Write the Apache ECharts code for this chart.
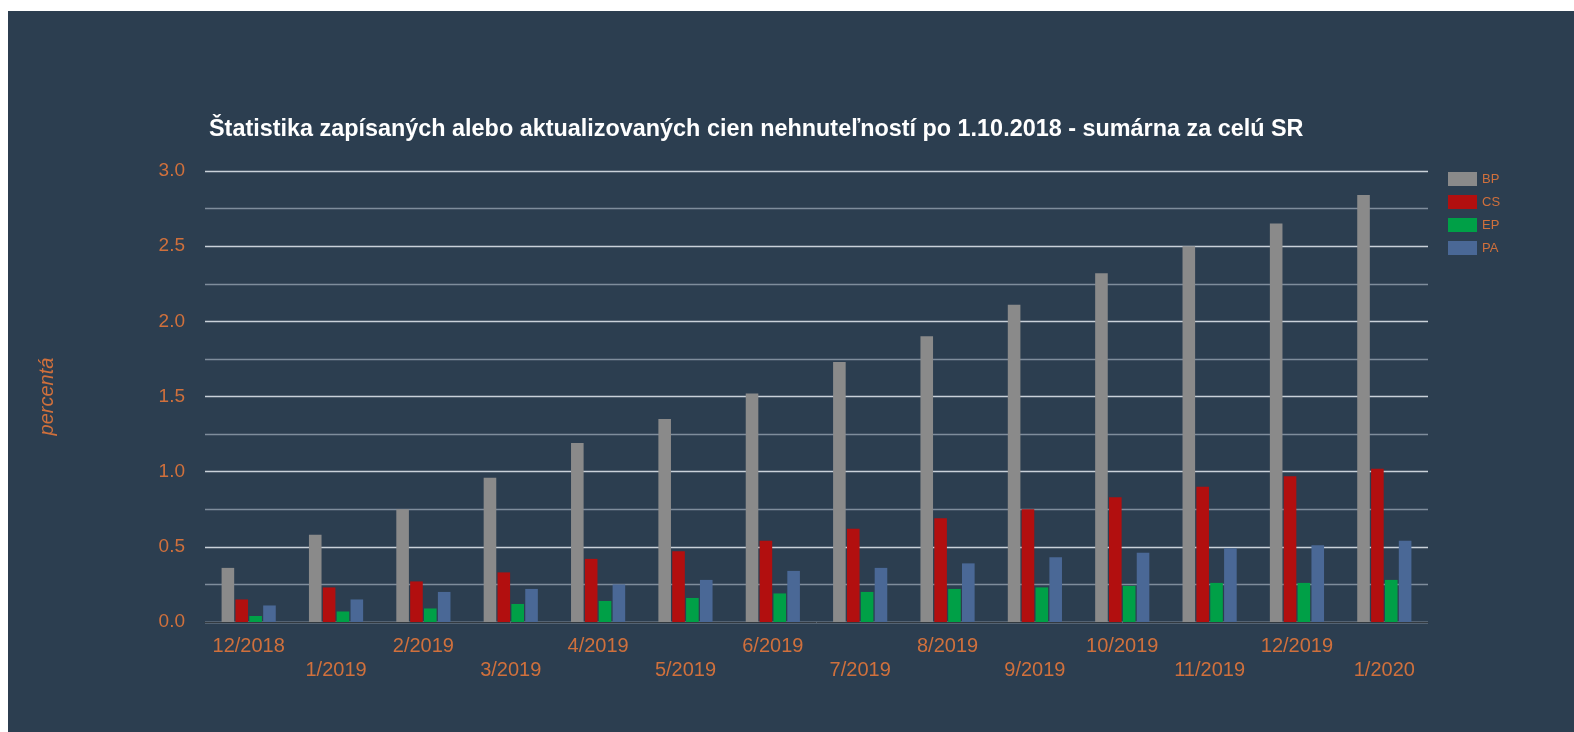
<!DOCTYPE html>
<html>
<head>
<meta charset="utf-8">
<script src="https://cdn.jsdelivr.net/npm/echarts@6/dist/echarts.min.js"></script>
<style>
  html, body { margin: 0; padding: 0; background: #ffffff; }
  #chart { position: absolute; left: 8px; top: 11px; width: 1566px; height: 721px; }
</style>
</head>
<body>
<div id="chart"></div>
<script>
var months = ['12/2018', '1/2019', '2/2019', '3/2019', '4/2019', '5/2019', '6/2019',
  '7/2019', '8/2019', '9/2019', '10/2019', '11/2019', '12/2019', '1/2020'];

var bp = [0.36, 0.58, 0.75, 0.96, 1.19, 1.35, 1.52, 1.73, 1.90, 2.11, 2.32, 2.50, 2.65, 2.84];
var cs = [0.15, 0.23, 0.27, 0.33, 0.42, 0.47, 0.54, 0.62, 0.69, 0.75, 0.83, 0.90, 0.97, 1.02];
var ep = [0.04, 0.07, 0.09, 0.12, 0.14, 0.16, 0.19, 0.20, 0.22, 0.23, 0.24, 0.26, 0.26, 0.28];
var pa = [0.11, 0.15, 0.20, 0.22, 0.25, 0.28, 0.34, 0.36, 0.39, 0.43, 0.46, 0.49, 0.51, 0.54];

var labelColor = '#d0703c';

var chart = echarts.init(document.getElementById('chart'));

// spolocne nastavenie pre stlpce
function bar(name, data, color) {
  return {
    name: name,
    type: 'bar',
    data: data,
    barWidth: 12.6,
    barGap: '10%',
    itemStyle: { color: color }
  };
}

chart.setOption({
  backgroundColor: '#2c3e50',
  animation: false,
  title: {
    text: 'Štatistika zapísaných alebo aktualizovaných cien nehnuteľností po 1.10.2018 - sumárna za celú SR',
    left: 196,
    top: 102,
    textStyle: { color: '#ffffff', fontFamily: 'Arial, Liberation Sans', fontSize: 23.4, fontWeight: 'bold' }
  },
  legend: {
    orient: 'vertical',
    left: 1435,
    top: 156,
    itemWidth: 29,
    itemHeight: 14,
    itemGap: 9,
    icon: 'rect',
    textStyle: { color: labelColor, fontFamily: 'Arial, Liberation Sans', fontSize: 13 }
  },
  grid: { left: 197, right: 146, top: 160, bottom: 110 },
  xAxis: {
    type: 'category',
    data: months,
    axisTick: { show: false },
    axisLine: { lineStyle: { color: '#333a40', width: 1 } },
    axisLabel: {
      interval: 0,
      color: labelColor,
      fontFamily: 'Arial, Liberation Sans',
      fontSize: 20,
      margin: 12,
      lineHeight: 24,
      formatter: function (v, i) { return i % 2 ? '\n' + v : v; }
    }
  },
  yAxis: {
    type: 'value',
    min: 0,
    max: 3,
    interval: 0.25,
    name: 'percentá',
    nameLocation: 'middle',
    nameGap: 148,
    nameTextStyle: { color: labelColor, fontFamily: 'Arial, Liberation Sans', fontSize: 20, fontStyle: 'italic' },
    axisLine: { show: false },
    axisTick: { show: false },
    axisLabel: {
      color: labelColor,
      fontFamily: 'Arial, Liberation Sans',
      fontSize: 19,
      margin: 20,
      formatter: function (v) { return Math.round(v * 4) % 2 === 0 ? v.toFixed(1) : ''; }
    },
    splitLine: { lineStyle: { color: ['#c9d1d9', '#7f8d9c'], width: 1.3 } }
  },
  series: [
    bar('BP', bp, '#8a8a8a'),
    bar('CS', cs, '#b20f0f'),
    bar('EP', ep, '#00a047'),
    bar('PA', pa, '#4a6896')
  ]
});
</script>
</body>
</html>
